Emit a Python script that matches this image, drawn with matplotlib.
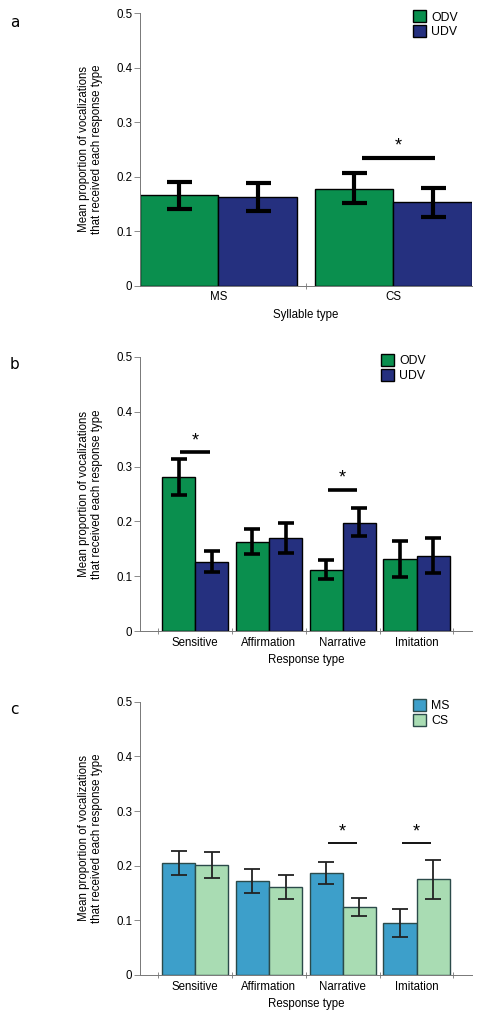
import matplotlib
matplotlib.use('Agg')
from matplotlib import pyplot as plt
from matplotlib.patches import FancyBboxPatch
from matplotlib.legend_handler import HandlerPatch
import numpy as np

plt.rcParams['font.family'] = ['Liberation Sans', 'DejaVu Sans']

# panel a: syllable type
syll_types = ['MS', 'CS']
a_odv = [0.166, 0.178]
a_odv_lo = [0.141, 0.152]
a_odv_hi = [0.191, 0.207]
a_udv = [0.163, 0.153]
a_udv_lo = [0.138, 0.126]
a_udv_hi = [0.188, 0.180]

# panel b: response type, ODV vs UDV
resp_types = ['Sensitive', 'Affirmation', 'Narrative', 'Imitation']
b_odv = [0.281, 0.163, 0.112, 0.132]
b_odv_lo = [0.248, 0.141, 0.095, 0.099]
b_odv_hi = [0.314, 0.187, 0.129, 0.165]
b_udv = [0.126, 0.170, 0.198, 0.137]
b_udv_lo = [0.107, 0.142, 0.173, 0.105]
b_udv_hi = [0.146, 0.198, 0.224, 0.170]

# panel c: response type, MS vs CS
c_ms = [0.205, 0.172, 0.186, 0.095]
c_ms_lo = [0.183, 0.150, 0.166, 0.070]
c_ms_hi = [0.226, 0.194, 0.206, 0.120]
c_cs = [0.202, 0.161, 0.125, 0.175]
c_cs_lo = [0.178, 0.139, 0.108, 0.139]
c_cs_hi = [0.225, 0.183, 0.141, 0.211]

# significance: (group index, line height)
a_sig = [(1, 0.235)]
b_sig = [(0, 0.327), (2, 0.258)]
c_sig = [(2, 0.242), (3, 0.242)]

green = '#0a8f4e'
navy = '#25307f'
blue = '#3d9fca'
light = '#a9dcb3'

ylab = 'Mean proportion of vocalizations\nthat received each response type'
fs = 8.3


def rounded(legend, orig, xdescent, ydescent, width, height, fontsize):
    return FancyBboxPatch((-xdescent + 1, -ydescent), width - 2, height,
                          boxstyle='round,pad=0,rounding_size=2.5')


def panel(ax, cats, v1, lo1, hi1, v2, lo2, hi2, c1, c2, labels, sig,
          xlabel, lw_err, cap, edge, leg_x, x_lim, minor, bw=0.45):
    x = np.arange(1, len(cats) + 1)
    ax.bar(x - bw / 2, v1, bw, color=c1, edgecolor=edge, linewidth=1.0, label=labels[0], zorder=2)
    ax.bar(x + bw / 2, v2, bw, color=c2, edgecolor=edge, linewidth=1.0, label=labels[1], zorder=2)
    for xs, v, lo, hi in [(x - bw / 2, v1, lo1, hi1), (x + bw / 2, v2, lo2, hi2)]:
        err = [np.array(v) - np.array(lo), np.array(hi) - np.array(v)]
        ax.errorbar(xs, v, yerr=err, fmt='none', ecolor='black' if lw_err > 2 else '#222222',
                    elinewidth=lw_err, capsize=cap, capthick=lw_err, zorder=3)
    for g, h in sig:
        half = 0.21 if len(cats) == 2 else 0.2
        cx = x[g] + (0.03 if len(cats) == 2 else 0)
        ax.plot([cx - half, cx + half], [h, h], color='black',
                lw=lw_err if lw_err > 2 else 1.3, solid_capstyle='butt', zorder=3)
        ax.text(cx, h + 0.005, '*', ha='center', va='bottom', fontsize=13)
    ax.set_yticks([0, 0.1, 0.2, 0.3, 0.4, 0.5])
    ax.set_yticklabels(['0', '0.1', '0.2', '0.3', '0.4', '0.5'])
    ax.set_xticks(x)
    ax.set_xticklabels(cats)
    ax.set_xticks(minor, minor=True)
    ax.set_ylim(0, 0.5)
    ax.set_xlim(*x_lim)
    ax.tick_params(axis='x', which='major', length=0, pad=4, labelsize=fs)
    ax.tick_params(axis='x', which='minor', length=4, direction='inout', color='#777777', width=0.6)
    ax.tick_params(axis='y', length=4, color='#777777', width=0.6, labelsize=fs, pad=1.5)
    for s in ['top', 'right']:
        ax.spines[s].set_visible(False)
    for s in ['left', 'bottom']:
        ax.spines[s].set_color('#777777')
        ax.spines[s].set_linewidth(0.7)
    ax.set_xlabel(xlabel, fontsize=fs, labelpad=4)
    ax.set_ylabel(ylab, fontsize=fs, linespacing=1.1)
    ax.yaxis.set_label_coords(-0.11, 0.5)
    ax.legend(loc='upper left', bbox_to_anchor=(leg_x, 1.01), frameon=False, fontsize=8.8,
              handlelength=1.1, handleheight=1.1, handletextpad=0.4, labelspacing=0.15,
              borderpad=0, borderaxespad=0,
              handler_map={matplotlib.patches.Rectangle: HandlerPatch(patch_func=rounded)})


fig = plt.figure(figsize=(4.82, 10.17), dpi=100)
ax_a = fig.add_axes([0.29, 0.719, 0.689, 0.268])
ax_b = fig.add_axes([0.29, 0.3795, 0.689, 0.2695])
ax_c = fig.add_axes([0.29, 0.0413, 0.689, 0.2687])

panel(ax_a, syll_types, a_odv, a_odv_lo, a_odv_hi, a_udv, a_udv_lo, a_udv_hi,
      green, navy, ['ODV', 'UDV'], a_sig, 'Syllable type', 3.0, 9, 'black', 0.822,
      (0.55, 2.45), [1.5])
panel(ax_b, resp_types, b_odv, b_odv_lo, b_odv_hi, b_udv, b_udv_lo, b_udv_hi,
      green, navy, ['ODV', 'UDV'], b_sig, 'Response type', 2.6, 6, 'black', 0.726,
      (0.25, 4.75), [0.5, 1.5, 2.5, 3.5, 4.5])
panel(ax_c, resp_types, c_ms, c_ms_lo, c_ms_hi, c_cs, c_cs_lo, c_cs_hi,
      blue, light, ['MS', 'CS'], c_sig, 'Response type', 1.3, 5.5, '#2b4a4a', 0.822,
      (0.25, 4.75), [0.5, 1.5, 2.5, 3.5, 4.5])

for lab, y in [('a', 0.985), ('b', 0.649), ('c', 0.31)]:
    fig.text(0.02, y, lab, fontsize=11, family='DejaVu Sans', va='top')

fig.savefig('out.png', dpi=100)
